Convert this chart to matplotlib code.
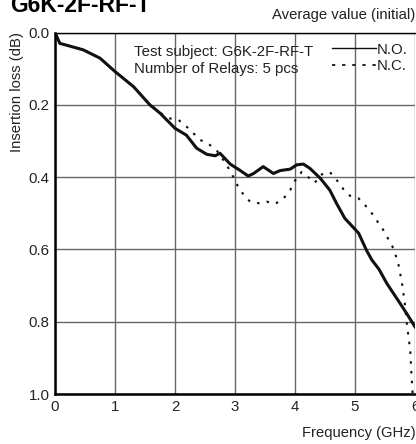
import numpy as np
import matplotlib
matplotlib.use("Agg")
import matplotlib.pyplot as plt

plt.rcParams['font.family'] = ['Liberation Sans', 'DejaVu Sans']

# N.O. (solid) curve
freq_no = [0, 0.08, 0.19, 0.47, 0.75, 1.0, 1.31, 1.58, 1.75, 2.0, 2.19, 2.36, 2.53,
           2.67, 2.75, 2.92, 3.08, 3.22, 3.31, 3.47, 3.64, 3.75, 3.92, 4.03, 4.14,
           4.25, 4.42, 4.58, 4.69, 4.83, 4.97, 5.06, 5.19, 5.28, 5.40, 5.53, 5.75,
           5.86, 6.0]
loss_no = [0.0, 0.03, 0.035, 0.048, 0.071, 0.108, 0.15, 0.20, 0.223, 0.265, 0.284,
           0.32, 0.337, 0.341, 0.334, 0.364, 0.381, 0.397, 0.39, 0.371, 0.39, 0.382,
           0.378, 0.366, 0.364, 0.376, 0.403, 0.436, 0.472, 0.514, 0.539, 0.555,
           0.602, 0.629, 0.655, 0.694, 0.749, 0.777, 0.814]

# N.C. (dotted) curve
freq_nc = [0, 0.08, 0.19, 0.47, 0.75, 1.0, 1.31, 1.58, 1.75, 1.89, 2.06, 2.19, 2.42,
           2.58, 2.69, 2.86, 2.97, 3.08, 3.25, 3.42, 3.53, 3.67, 3.81, 3.92, 4.0,
           4.11, 4.22, 4.33, 4.42, 4.58, 4.69, 4.81, 4.92, 5.06, 5.17, 5.28, 5.47,
           5.64, 5.72, 5.78, 5.83, 5.87, 5.92, 5.94, 5.96]
loss_nc = [0.0, 0.03, 0.035, 0.048, 0.071, 0.108, 0.15, 0.198, 0.222, 0.237, 0.242,
           0.26, 0.297, 0.311, 0.325, 0.366, 0.399, 0.436, 0.468, 0.473, 0.468,
           0.474, 0.459, 0.436, 0.41, 0.386, 0.4, 0.416, 0.394, 0.386, 0.407, 0.434,
           0.452, 0.459, 0.478, 0.5, 0.546, 0.597, 0.638, 0.69, 0.749, 0.814, 0.878,
           0.943, 1.0]

xticks = [0, 1, 2, 3, 4, 5, 6]
yticks = [0.0, 0.2, 0.4, 0.6, 0.8, 1.0]

txt = '#222222'

fig = plt.figure(figsize=(4.16, 4.44), dpi=100)
ax = fig.add_axes([55/416, 1 - 394/444, 360/416, 361.5/444])

ax.plot(freq_no, loss_no, '-', color='#111111', lw=2.2, label='N.O.')
ax.plot(freq_nc, loss_nc, color='#111111', lw=1.5, linestyle=(0, (1.2, 3.5)),
        label='N.C.')

ax.set_xlim(0, 6)
ax.set_ylim(1.0, 0.0)
ax.set_xticks(xticks)
ax.set_yticks(yticks)
ax.set_yticklabels([f'{v:.1f}' for v in yticks])
ax.tick_params(length=0, labelsize=10.8, pad=4, colors=txt)
ax.grid(True, color='#666666', lw=1)

for side in ['left', 'bottom']:
    ax.spines[side].set_linewidth(1.8)
ax.spines['top'].set_linewidth(1.0)
ax.spines['right'].set_visible(False)

leg = ax.legend(loc='upper right', bbox_to_anchor=(1.0, 0.993), frameon=False,
                fontsize=10.8, handlelength=2.9, handletextpad=0.05,
                labelspacing=0.16, borderaxespad=0.1)
for t in leg.get_texts():
    t.set_color(txt)
h_no, h_nc = leg.get_lines()
h_no.set_linewidth(1.0)
h_nc.set_linewidth(1.3)
h_nc.set_linestyle((0, (1.8, 3.8)))

ax.text(134/416, 1 - 55.7/444, 'Test subject: G6K-2F-RF-T', transform=fig.transFigure,
        fontsize=10.8, va='baseline', color=txt)
ax.text(134/416, 1 - 73.3/444, 'Number of Relays: 5 pcs', transform=fig.transFigure,
        fontsize=10.8, va='baseline', color=txt)

fig.text(10/416, 1 - 12.5/444, 'G6K-2F-RF-T', fontsize=16.5, fontweight='bold',
         va='baseline', ha='left')
fig.text(0.998, 1 - 15/444, 'Average value (initial)', fontsize=10.7, va='center',
         ha='right', color=txt)
fig.text(17/416, 1 - 32/444, 'Insertion loss (dB)', rotation=90, fontsize=10.7,
         va='top', ha='center', color=txt)
fig.text(1.0, 1 - 433/444, 'Frequency (GHz)', fontsize=10.6, va='center',
         ha='right', color=txt)

fig.savefig('out.png', dpi=100)
